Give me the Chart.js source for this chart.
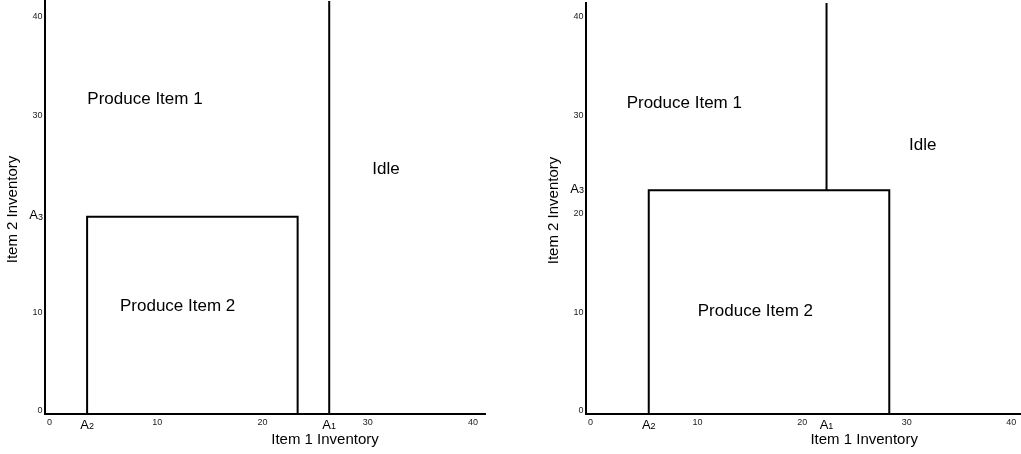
<!DOCTYPE html>
<html lang="en">
<head>
    <meta charset="UTF-8">
    <title>Inventory regions</title>
    <script src="https://cdn.jsdelivr.net/npm/chart.js"></script>
    <style>
        body {
            margin: 0;
            background: #ffffff;
            width: 1021px;
            height: 454px;
            position: relative;
            overflow: hidden;
        }
        .panel {
            position: absolute;
            top: 0;
        }
    </style>
</head>
<body>
    <div class="panel" style="left:0px"><canvas id="leftChart" width="500" height="454"></canvas></div>
    <div class="panel" style="left:530px"><canvas id="rightChart" width="491" height="454"></canvas></div>

    <script>
        // data
        const X_TITLE = "Item 1 Inventory";
        const Y_TITLE = "Item 2 Inventory";
        const REGION_NAMES = ["Produce Item 1", "Idle", "Produce Item 2"];

        // left panel
        const LEFT_X_TICKS = [0, 10, 20, 30, 40];
        const LEFT_Y_TICKS = [0, 10, 30, 40];
        const LEFT_A = [27, 4, 20];          // A1, A2, A3
        const LEFT_BOX_RIGHT = 24;
        const LEFT_REGION_X = [9.5, 32.4, 12.6];
        const LEFT_REGION_Y = [31.9, 24.8, 10.9];

        // right panel
        const RIGHT_X_TICKS = [0, 10, 20, 30, 40];
        const RIGHT_Y_TICKS = [0, 10, 20, 30, 40];
        const RIGHT_A = [23, 6, 22.7];       // A1, A2, A3
        const RIGHT_BOX_RIGHT = 29;
        const RIGHT_REGION_X = [9.4, 32.2, 16.2];
        const RIGHT_REGION_Y = [31.5, 27.3, 10.4];

        const FONT = "'Liberation Sans', Arial, sans-serif";

        function drawA(ctx, sub, cx, cy) {
            ctx.font = "13px " + FONT;
            const w1 = ctx.measureText("A").width;
            ctx.font = "9px " + FONT;
            const w2 = ctx.measureText(sub).width;
            const start = cx - (w1 + w2) / 2;
            ctx.textAlign = "left";
            ctx.textBaseline = "alphabetic";
            ctx.fillStyle = "#000";
            ctx.font = "13px " + FONT;
            ctx.fillText("A", start, cy + 4.5);
            ctx.font = "9px " + FONT;
            ctx.fillText(sub, start + w1, cy + 5);
        }

        function drawARight(ctx, sub, right, cy) {
            ctx.font = "9px " + FONT;
            const w2 = ctx.measureText(sub).width;
            ctx.font = "13px " + FONT;
            const w1 = ctx.measureText("A").width;
            drawA(ctx, sub, right - (w1 + w2) / 2, cy);
        }

        function labelPlugin(cfg) {
            return {
                id: "labels_" + cfg.name,
                afterDraw(chart) {
                    const ctx = chart.ctx;
                    const xs = chart.scales.x;
                    const ys = chart.scales.y;
                    const area = chart.chartArea;
                    ctx.save();

                    // number ticks
                    ctx.fillStyle = "#222";
                    ctx.font = "9px " + FONT;
                    ctx.textBaseline = "middle";
                    ctx.textAlign = "left";
                    cfg.xTicks.forEach(v => {
                        ctx.fillText(String(v), xs.getPixelForValue(v) + 2, area.bottom + 9);
                    });
                    ctx.textAlign = "right";
                    cfg.yTicks.forEach(v => {
                        ctx.fillText(String(v), area.left - 2.5, ys.getPixelForValue(v) - 3);
                    });

                    // A labels
                    drawA(ctx, "1", xs.getPixelForValue(cfg.a[0]), area.bottom + 10);
                    drawA(ctx, "2", xs.getPixelForValue(cfg.a[1]), area.bottom + 10);
                    drawARight(ctx, "3", area.left - 2, ys.getPixelForValue(cfg.a[2]) - 2);

                    // region names
                    ctx.fillStyle = "#000";
                    ctx.font = "17px " + FONT;
                    ctx.textAlign = "center";
                    ctx.textBaseline = "middle";
                    REGION_NAMES.forEach((name, i) => {
                        ctx.fillText(name, xs.getPixelForValue(cfg.regionX[i]), ys.getPixelForValue(cfg.regionY[i]));
                    });

                    // axis titles
                    ctx.font = "15px " + FONT;
                    ctx.fillText(X_TITLE, xs.getPixelForValue(26.6), area.bottom + 26);
                    ctx.translate(area.left - 32, (area.top + area.bottom) / 2 + 2);
                    ctx.rotate(-Math.PI / 2);
                    ctx.fillText(Y_TITLE, 0, 0);

                    ctx.restore();
                }
            };
        }

        function makeChart(id, cfg) {
            const a1 = cfg.a[0], a2 = cfg.a[1], a3 = cfg.a[2];
            const boxX = [a2, a2, cfg.boxRight, cfg.boxRight];
            const boxY = [0, a3, a3, 0];
            const lineX = [a1, a1];
            const lineY = [cfg.lineFrom, cfg.yMax];
            const line = {
                showLine: true,
                borderColor: "#000",
                borderWidth: 2,
                pointRadius: 0,
                fill: false
            };
            new Chart(document.getElementById(id), {
                type: "scatter",
                data: {
                    datasets: [
                        Object.assign({ data: boxX.map((x, i) => ({ x: x, y: boxY[i] })) }, line),
                        Object.assign({ data: lineX.map((x, i) => ({ x: x, y: lineY[i] })) }, line)
                    ]
                },
                options: {
                    responsive: false,
                    devicePixelRatio: 1,
                    animation: false,
                    layout: { padding: cfg.padding },
                    plugins: {
                        legend: { display: false },
                        tooltip: { enabled: false }
                    },
                    scales: {
                        x: {
                            type: "linear",
                            min: 0,
                            max: cfg.xMax,
                            grid: { display: false },
                            border: { display: true, color: "#000", width: 2 },
                            ticks: { display: false },
                            afterFit(scale) { scale.height = 40; }
                        },
                        y: {
                            type: "linear",
                            min: 0,
                            max: cfg.yMax,
                            grid: { display: false },
                            border: { display: true, color: "#000", width: 2 },
                            ticks: { display: false },
                            afterFit(scale) { scale.width = cfg.yWidth; }
                        }
                    }
                },
                plugins: [labelPlugin(cfg)]
            });
        }

        makeChart("leftChart", {
            name: "left",
            xTicks: LEFT_X_TICKS,
            yTicks: LEFT_Y_TICKS,
            a: LEFT_A,
            boxRight: LEFT_BOX_RIGHT,
            lineFrom: 0,
            regionX: LEFT_REGION_X,
            regionY: LEFT_REGION_Y,
            xMax: 41.8,
            yMax: 41.9,
            yWidth: 45,
            padding: { left: 0, right: 15, top: 1, bottom: 0 }
        });

        makeChart("rightChart", {
            name: "right",
            xTicks: RIGHT_X_TICKS,
            yTicks: RIGHT_Y_TICKS,
            a: RIGHT_A,
            boxRight: RIGHT_BOX_RIGHT,
            lineFrom: RIGHT_A[2],
            regionX: RIGHT_REGION_X,
            regionY: RIGHT_REGION_Y,
            xMax: 41.5,
            yMax: 41.7,
            yWidth: 56,
            padding: { left: 0, right: 1, top: 3, bottom: 0 }
        });
    </script>
</body>
</html>
